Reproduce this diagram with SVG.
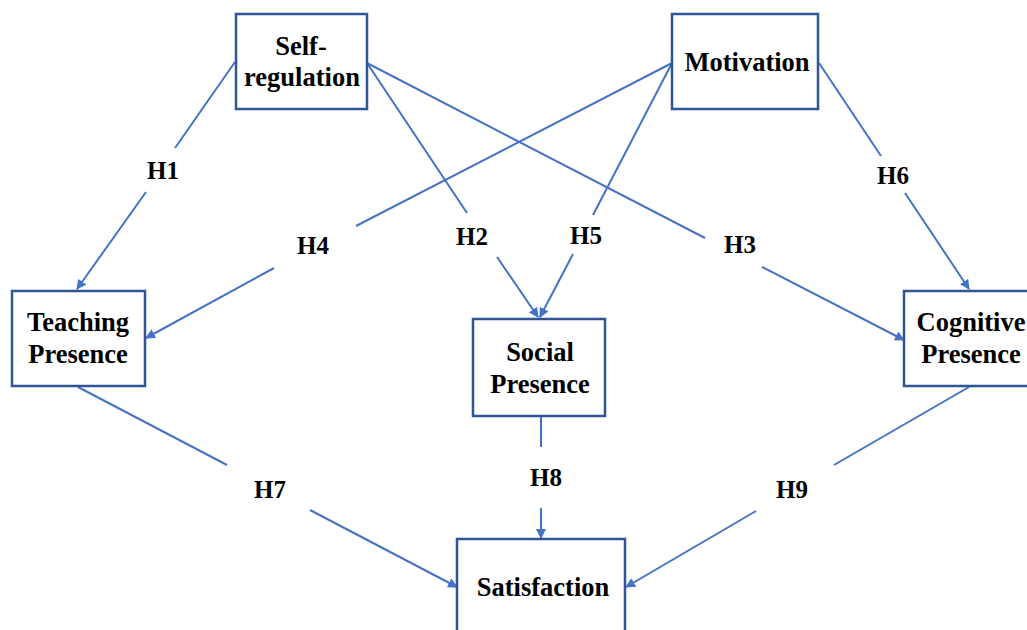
<svg xmlns="http://www.w3.org/2000/svg" width="1027" height="630" viewBox="0 0 1027 630">
<defs>
<marker id="arr" viewBox="0 0 10 10" refX="9" refY="5" markerWidth="10" markerHeight="10" markerUnits="userSpaceOnUse" orient="auto">
<path d="M0,0 L10,5 L0,10 z" fill="#4472C4"/>
</marker>
<style>
.box{fill:#fff;stroke:#2F5597;stroke-width:2.5}
.t{font-weight:bold;font-size:25px;fill:#000;text-anchor:middle}
.n{font-weight:bold;font-size:26.5px;fill:#000;text-anchor:middle}
.c{stroke:#4472C4;stroke-width:2;fill:none}
</style>
</defs>
<rect width="1027" height="630" fill="#fff"/>
<g id="connectors">
<path class="c" d="M235,62 L175,148"/>
<path class="c" d="M146,192 L77,289" marker-end="url(#arr)"/>
<path class="c" d="M367,63 L467,213"/>
<path class="c" d="M497,257 L538,317" marker-end="url(#arr)"/>
<path class="c" d="M367,63 L705,238"/>
<path class="c" d="M762,267 L904,340" marker-end="url(#arr)"/>
<path class="c" d="M672,63 L356,226"/>
<path class="c" d="M274,268 L146,338" marker-end="url(#arr)"/>
<path class="c" d="M672,63 L593,215"/>
<path class="c" d="M573,254 L540,317" marker-end="url(#arr)"/>
<path class="c" d="M819,63 L881,156"/>
<path class="c" d="M905,193 L969,289" marker-end="url(#arr)"/>
<path class="c" d="M78,387 L227,465"/>
<path class="c" d="M310,510 L457,587" marker-end="url(#arr)"/>
<path class="c" d="M541,417 L541,447"/>
<path class="c" d="M541,508 L541,538" marker-end="url(#arr)"/>
<path class="c" d="M969,387 L834,465"/>
<path class="c" d="M756,511 L626,587" marker-end="url(#arr)"/>
</g>
<g id="labels" font-family="'Liberation Serif', 'Times New Roman', 'DejaVu Serif', serif">
<text class="t" x="163" y="179">H1</text>
<text class="t" x="472" y="245">H2</text>
<text class="t" x="740" y="253">H3</text>
<text class="t" x="313" y="254">H4</text>
<text class="t" x="586" y="244">H5</text>
<text class="t" x="893" y="184">H6</text>
<text class="t" x="270" y="498">H7</text>
<text class="t" x="546" y="486">H8</text>
<text class="t" x="792" y="498">H9</text>
</g>
<g id="nodes" font-family="'Liberation Serif', 'Times New Roman', 'DejaVu Serif', serif">
<g id="self-regulation">
<rect class="box" x="236" y="14" width="131" height="95"/>
<text class="n" x="301" y="55">Self-</text>
<text class="n" x="302" y="86">regulation</text>
</g>
<g id="motivation">
<rect class="box" x="672" y="14" width="146" height="95"/>
<text class="n" x="747" y="71">Motivation</text>
</g>
<g id="teaching-presence">
<rect class="box" x="12" y="291" width="133" height="95"/>
<text class="n" x="78" y="331">Teaching</text>
<text class="n" x="78" y="363">Presence</text>
</g>
<g id="social-presence">
<rect class="box" x="473" y="319" width="132" height="97"/>
<text class="n" x="540" y="361">Social</text>
<text class="n" x="540" y="393">Presence</text>
</g>
<g id="cognitive-presence">
<rect class="box" x="904" y="291" width="132" height="95"/>
<text class="n" x="971" y="331">Cognitive</text>
<text class="n" x="971" y="363">Presence</text>
</g>
<g id="satisfaction">
<rect class="box" x="457" y="539" width="168" height="100"/>
<text class="n" x="543" y="596">Satisfaction</text>
</g>
</g>
</svg>
